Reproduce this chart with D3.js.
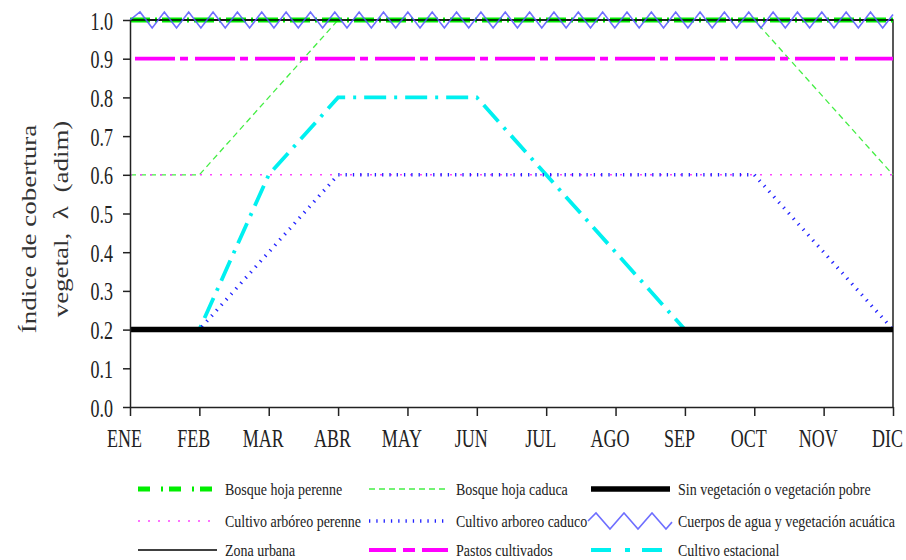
<!DOCTYPE html>
<html>
<head>
<meta charset="utf-8">
<script src="https://cdn.jsdelivr.net/npm/d3@7"></script>
<style>
    body { margin: 0; background: #fff; }
    svg text { font-family: "Liberation Serif", "Times New Roman", "DejaVu Serif", serif; }
</style>
</head>
<body>
<div id="chart"></div>
<script>
// DATA
const months = ["ENE", "FEB", "MAR", "ABR", "MAY", "JUN", "JUL", "AGO", "SEP", "OCT", "NOV", "DIC"];
const yTicks = [0, 0.1, 0.2, 0.3, 0.4, 0.5, 0.6, 0.7, 0.8, 0.9, 1.0];

const bosqueHojaPerenne = [1, 1, 1, 1, 1, 1, 1, 1, 1, 1, 1, 1];
const bosqueHojaCaduca = [0.6, 0.6, 0.8, 1, 1, 1, 1, 1, 1, 1, 0.8, 0.6];
const sinVegetacion = [0.2, 0.2, 0.2, 0.2, 0.2, 0.2, 0.2, 0.2, 0.2, 0.2, 0.2, 0.2];
const cultivoArboreoPerenne = [0.6, 0.6, 0.6, 0.6, 0.6, 0.6, 0.6, 0.6, 0.6, 0.6, 0.6, 0.6];
const cultivoArboreoCaduco = [0.2, 0.2, 0.4, 0.6, 0.6, 0.6, 0.6, 0.6, 0.6, 0.6, 0.4, 0.2];
const cuerposAgua = [1, 1, 1, 1, 1, 1, 1, 1, 1, 1, 1, 1];
const zonaUrbana = [1, 1, 1, 1, 1, 1, 1, 1, 1, 1, 1, 1];
const pastosCultivados = [0.9, 0.9, 0.9, 0.9, 0.9, 0.9, 0.9, 0.9, 0.9, 0.9, 0.9, 0.9];
const cultivoEstacional = [0.2, 0.2, 0.6, 0.8, 0.8, 0.8, 0.6, 0.4, 0.2, 0.2, 0.2, 0.2];

// series table (legend order, row by row)
const series = [
    {name: "Bosque hoja perenne", values: bosqueHojaPerenne, color: "#00ee00", width: 5, dash: "20,5,2,5", legendDash: "12,11,2,6", z: 7},
    {name: "Bosque hoja caduca", values: bosqueHojaCaduca, color: "#44ee44", width: 1.3, dash: "6,4", z: 1},
    {name: "Sin vegetación o vegetación pobre", values: sinVegetacion, color: "#000", width: 5.5, dash: null, z: 6},
    {name: "Cultivo arbóreo perenne", values: cultivoArboreoPerenne, color: "#ff44ff", width: 1.5, dash: "2,8", z: 3},
    {name: "Cultivo arboreo caduco", values: cultivoArboreoCaduco, color: "#2222ff", width: 3.5, dash: "1.3,6", z: 5},
    {name: "Cuerpos de agua y vegetación acuática", values: cuerposAgua, color: "#5555ff", width: 1.6, zigzag: true, z: 9},
    {name: "Zona urbana", values: zonaUrbana, color: "#000", width: 1.3, dash: null, z: 8},
    {name: "Pastos cultivados", values: pastosCultivados, color: "#ff00ff", width: 3.8, dash: "40,5,8,7", dashOffset: 55, legendDash: "27,7,12,7", z: 2},
    {name: "Cultivo estacional", values: cultivoEstacional, color: "#00f0f0", width: 3.8, dash: "22,8,3,8", legendDash: "20,14,5,12", z: 4}
];

// CHART VARIABLES
const width = 906;
const height = 560;
const plotLeft = 130, plotRight = 893, plotTop = 20, plotBottom = 407;
const squeeze = 0.72;
const serif = "'Liberation Serif', 'Times New Roman', 'DejaVu Serif', serif";

const svg = d3.select("#chart")
    .append("svg")
        .attr("width", width)
        .attr("height", height);

const xScale = d3.scalePoint()
    .domain(months)
    .range([plotLeft, plotRight]);
const yScale = d3.scaleLinear()
    .domain([0, 1])
    .range([plotBottom, plotTop]);

// zigzag drawing for the water line style
function zigzag(x0, x1, y, period, amp, firstPeak) {
    const pts = [[x0, y]];
    let x = x0 + firstPeak, up = true;
    while (x < x1) {
        pts.push([x, up ? y - amp : y + amp]);
        x += period / 2;
        up = !up;
    }
    const last = pts[pts.length - 1];
    const t = (x1 - last[0]) / (period / 2);
    pts.push([x1, last[1] + (up ? -1 : 1) * 2 * amp * t]);
    return pts;
}

// frame (top and right)
svg.append("path")
    .attr("d", `M${plotLeft},${plotTop}H${plotRight}V${plotBottom}`)
    .attr("fill", "none")
    .attr("stroke", "#222")
    .attr("stroke-width", 1.5);

// lines
const line = d3.line()
    .x((d, i) => xScale(months[i]))
    .y(d => yScale(d));

const gLines = svg.append("g");
series.slice().sort((a, b) => a.z - b.z).forEach(s => {
    if (s.zigzag) {
        gLines.append("path")
            .attr("d", d3.line()(zigzag(xScale(months[0]), xScale(months[months.length - 1]), yScale(s.values[0]), 24.35, 8, 10)))
            .attr("fill", "none")
            .attr("stroke", s.color)
            .attr("stroke-width", s.width)
            .attr("opacity", 0.85);
        return;
    }
    gLines.append("path")
        .datum(s.values)
        .attr("d", line)
        .attr("fill", "none")
        .attr("stroke", s.color)
        .attr("stroke-width", s.width)
        .attr("stroke-dasharray", s.dash)
        .attr("stroke-dashoffset", s.dashOffset || 0);
});

// axes
const yAxis = d3.axisLeft(yScale)
    .tickValues(yTicks)
    .tickFormat(d3.format(".1f"))
    .tickSize(7)
    .tickSizeOuter(0);
const xAxis = d3.axisBottom(xScale)
    .tickSize(9)
    .tickSizeOuter(0);

svg.append("g")
    .attr("transform", `translate(${plotLeft},0)`)
    .call(yAxis)
    .attr("font-family", serif)
    .call(g => g.select(".domain").attr("stroke", "#222").attr("stroke-width", 1.5))
    .call(g => g.selectAll(".tick line").attr("stroke", "#222").attr("stroke-width", 1.5))
    .call(g => g.selectAll(".tick text")
        .style("font-family", serif)
        .attr("font-size", 25)
        .attr("fill", "#222")
        .attr("x", -17 / squeeze)
        .attr("dy", "0.36em")
        .attr("transform", `scale(${squeeze},1)`));

svg.append("g")
    .attr("transform", `translate(0,${plotBottom})`)
    .call(xAxis)
    .attr("font-family", serif)
    .call(g => g.select(".domain").attr("stroke", "#222").attr("stroke-width", 1.5))
    .call(g => g.selectAll(".tick line").attr("stroke", "#222").attr("stroke-width", 1.5))
    .call(g => g.selectAll(".tick text")
        .style("font-family", serif)
        .attr("font-size", 25)
        .attr("fill", "#222")
        .attr("x", -6 / squeeze)
        .attr("y", 40)
        .attr("dy", 0)
        .attr("transform", `scale(${squeeze},1)`));

// y axis title
const titleLines = [
    {text: "Índice de cobertura", x: 29, y: 229},
    {text: "vegetal,  λ  (adim)", x: 61, y: 219}
];
titleLines.forEach(t => {
    svg.append("text")
        .attr("transform", `translate(${t.x},${t.y}) scale(0.75,1) rotate(-90)`)
        .attr("text-anchor", "middle")
        .attr("dominant-baseline", "central")
        .attr("font-size", 27)
        .attr("fill", "#333")
        .style("font-family", serif)
        .style("white-space", "pre")
        .text(t.text);
});

// legend
const legendCols = [138, 369, 591];
const legendRows = [489, 521, 550];
const legendLen = 79;

series.forEach((s, i) => {
    const x = legendCols[i % 3];
    const y = legendRows[Math.floor(i / 3)];
    const g = svg.append("g");
    if (s.zigzag) {
        g.append("path")
            .attr("d", d3.line()(zigzag(x - 3, x + legendLen + 2, y, 28, 8, 8)))
            .attr("fill", "none")
            .attr("stroke", s.color)
            .attr("stroke-width", 1.6)
            .attr("opacity", 0.85);
    } else {
        g.append("line")
            .attr("x1", x).attr("x2", x + legendLen)
            .attr("y1", y).attr("y2", y)
            .attr("stroke", s.color)
            .attr("stroke-width", s.width)
            .attr("stroke-dasharray", s.legendDash || s.dash);
    }
    g.append("text")
        .attr("transform", `translate(${x + legendLen + 8},${y}) scale(0.8,1)`)
        .attr("dy", "0.32em")
        .attr("font-size", 17.5)
        .attr("fill", "#222")
        .style("font-family", serif)
        .text(s.name);
});
</script>
</body>
</html>
